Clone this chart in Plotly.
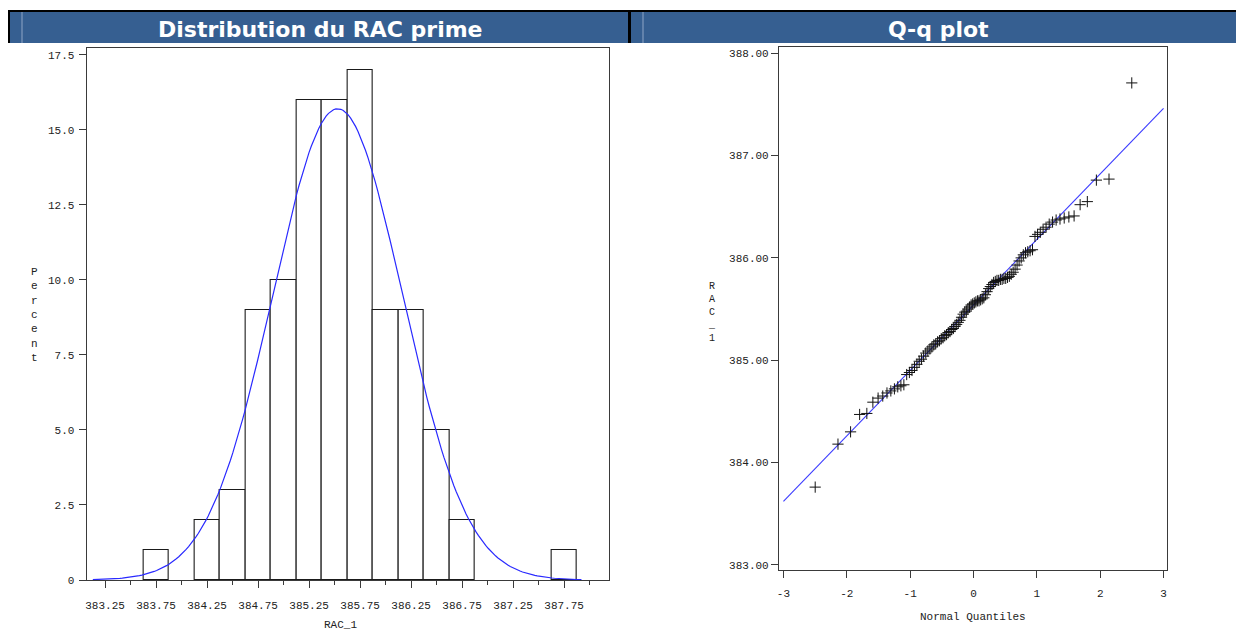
import plotly.graph_objects as go
from statistics import NormalDist
import math

# ---------------- data ----------------
bin_centers = [383.75, 384.25, 384.50, 384.75, 385.00, 385.25, 385.50,
               385.75, 386.00, 386.25, 386.50, 386.75, 387.75]
bin_percent = [1, 2, 3, 9, 10, 16, 16, 17, 9, 9, 5, 2, 1]
bin_width = 0.25

fit_mean = 385.53
fit_std = 0.635
curve_start = 383.13
curve_end = 387.92

qq_intercept = 385.54
qq_slope = 0.64

rac_sorted = [
    383.76,
    384.18, 384.30,
    384.47, 384.48, 384.59,
    384.63, 384.65, 384.68, 384.70, 384.72, 384.74, 384.75, 384.76, 384.86,
    384.88, 384.90, 384.93, 384.96, 384.99, 385.01, 385.04, 385.07, 385.09, 385.11,
    385.13, 385.15, 385.16, 385.18, 385.19, 385.21, 385.22, 385.24,
    385.25, 385.27, 385.28, 385.30, 385.31, 385.33, 385.35, 385.37,
    385.39, 385.42, 385.45, 385.47, 385.48, 385.50, 385.52, 385.54,
    385.55, 385.56, 385.57, 385.58, 385.58, 385.59, 385.60, 385.61,
    385.64, 385.67, 385.70, 385.72, 385.74, 385.76, 385.77, 385.78, 385.78,
    385.79, 385.79, 385.80, 385.80, 385.81, 385.82, 385.84, 385.86,
    385.89, 385.93, 385.97, 386.00, 386.03, 386.05, 386.06, 386.07, 386.08,
    386.21, 386.23, 386.25, 386.28, 386.30, 386.33, 386.35, 386.37, 386.38,
    386.39, 386.40, 386.41, 386.52, 386.55,
    386.76, 386.77,
    387.71,
]

hist_xticks = [383.25, 383.75, 384.25, 384.75, 385.25, 385.75, 386.25, 386.75, 387.25, 387.75]
hist_minor = [383.5, 384.0, 384.5, 385.0, 385.5, 386.0, 386.5, 387.0, 387.5, 388.0]
hist_yticks = [0, 2.5, 5.0, 7.5, 10.0, 12.5, 15.0, 17.5]
qq_xticks = [-3, -2, -1, 0, 1, 2, 3]
qq_yticks = [383, 384, 385, 386, 387, 388]

# ---------------- derived ----------------
nd = NormalDist(fit_mean, fit_std)
n_curve = 200
curve_x = [curve_start + (curve_end - curve_start) * i / (n_curve - 1) for i in range(n_curve)]
curve_y = [100 * bin_width * nd.pdf(v) for v in curve_x]

n = len(rac_sorted)
std = NormalDist()
qq_x = [std.inv_cdf((i + 1 - 0.375) / (n + 0.25)) for i in range(n)]
line_x = [-3, 3]
line_y = [qq_intercept + qq_slope * v for v in line_x]

W, H = 1236, 632
def px(x):
    return x / W
def py(y):
    return 1 - y / H

TICKFONT = dict(family="Liberation Mono", size=11, color="#222")
AXC = "#3a3a3a"

fig = go.Figure()
fig.add_trace(go.Bar(
    x=bin_centers, y=bin_percent, width=bin_width,
    marker=dict(color="white", line=dict(color="#1a1a1a", width=1.1)),
    xaxis="x", yaxis="y", showlegend=False, hoverinfo="x+y"))
fig.add_trace(go.Scatter(
    x=curve_x, y=curve_y, mode="lines",
    line=dict(color="#2a2aff", width=1.2),
    xaxis="x", yaxis="y", showlegend=False))
fig.add_trace(go.Scatter(
    x=line_x, y=line_y, mode="lines",
    line=dict(color="#3a3aff", width=1.1),
    xaxis="x2", yaxis="y2", showlegend=False))
fig.add_trace(go.Scatter(
    x=qq_x, y=rac_sorted, mode="markers",
    marker=dict(symbol="cross-thin", size=8, line=dict(color="#111", width=1)),
    xaxis="x2", yaxis="y2", showlegend=False))

common = dict(ticks="outside", ticklen=7, tickcolor=AXC, tickwidth=1.2,
              showline=True, linecolor=AXC, linewidth=1.2, mirror=True,
              showgrid=False, zeroline=False, tickfont=TICKFONT, automargin=False)

fig.update_layout(
    width=W, height=H,
    margin=dict(l=0, r=0, t=0, b=0, pad=0, autoexpand=False),
    paper_bgcolor="white", plot_bgcolor="white",
    bargap=0,
    xaxis=dict(
        domain=[px(86.7), px(609)], range=[383.07, 388.19],
        tickmode="array", tickvals=hist_xticks, ticktext=[f"{v:.2f}" for v in hist_xticks],
        minor=dict(tickmode="array", tickvals=hist_minor, ticks="outside", ticklen=4,
                   tickcolor=AXC, tickwidth=1.2, showgrid=False),
        anchor="y", ticklabelstandoff=8, **common,
    ),
    yaxis=dict(
        domain=[py(580), py(48)], range=[0, 17.73],
        tickmode="array", tickvals=hist_yticks,
        ticktext=["0" if v == 0 else f"{v:.1f}" for v in hist_yticks],
        anchor="x", ticklabelstandoff=2, **common,
    ),
    xaxis2=dict(
        domain=[px(779), px(1166.7)], range=[-3.07, 3.05],
        tickmode="array", tickvals=qq_xticks, ticktext=[str(v) for v in qq_xticks],
        anchor="y2", ticklabelstandoff=6, **common,
    ),
    yaxis2=dict(
        domain=[py(570), py(47.3)], range=[382.95, 388.058],
        tickmode="array", tickvals=qq_yticks, ticktext=[f"{v:.2f}" for v in qq_yticks],
        anchor="x2", **common,
    ),
)

HEAD = "#365f91"
shapes = [
    dict(type="rect", xref="paper", yref="paper", x0=px(8), x1=px(1236), y0=py(43), y1=py(12),
         fillcolor=HEAD, line=dict(width=0), layer="above"),
    dict(type="rect", xref="paper", yref="paper", x0=px(8), x1=px(1236), y0=py(12), y1=py(10),
         fillcolor="black", line=dict(width=0), layer="above"),
    dict(type="rect", xref="paper", yref="paper", x0=px(8), x1=px(10), y0=py(43), y1=py(10),
         fillcolor="black", line=dict(width=0), layer="above"),
    dict(type="rect", xref="paper", yref="paper", x0=px(628), x1=px(631), y0=py(43), y1=py(10),
         fillcolor="black", line=dict(width=0), layer="above"),
    dict(type="line", xref="paper", yref="paper", x0=px(22), x1=px(22), y0=py(43), y1=py(12),
         line=dict(color="#8ea6c6", width=1), layer="above"),
    dict(type="line", xref="paper", yref="paper", x0=px(643), x1=px(643), y0=py(43), y1=py(12),
         line=dict(color="#8ea6c6", width=1), layer="above"),
]
fig.update_layout(shapes=shapes)

HFONT = dict(family="DejaVu Sans", size=22, color="white")
annotations = [
    dict(text="<b>Distribution du RAC prime</b>", xref="paper", yref="paper",
         x=px(320), y=py(29), showarrow=False, font=HFONT, xanchor="center", yanchor="middle"),
    dict(text="<b>Q-q plot</b>", xref="paper", yref="paper",
         x=px(938), y=py(29), showarrow=False, font=HFONT, xanchor="center", yanchor="middle"),
    dict(text="RAC_1", xref="paper", yref="paper", x=px(340), y=py(625), showarrow=False,
         font=TICKFONT, xanchor="center", yanchor="middle"),
    dict(text="Normal Quantiles", xref="paper", yref="paper", x=px(973), y=py(617), showarrow=False,
         font=TICKFONT, xanchor="center", yanchor="middle"),
    dict(text="P<br>e<br>r<br>c<br>e<br>n<br>t", xref="paper", yref="paper", x=px(34), y=py(315),
         showarrow=False, font=dict(family="Liberation Mono", size=11, color="#222"),
         xanchor="center", yanchor="middle"),
    dict(text="R<br>A<br>C<br>_<br>1", xref="paper", yref="paper", x=px(712), y=py(312),
         showarrow=False, font=dict(family="Liberation Mono", size=10, color="#222"),
         xanchor="center", yanchor="middle"),
]
fig.update_layout(annotations=annotations)

fig.write_html("out.html")
